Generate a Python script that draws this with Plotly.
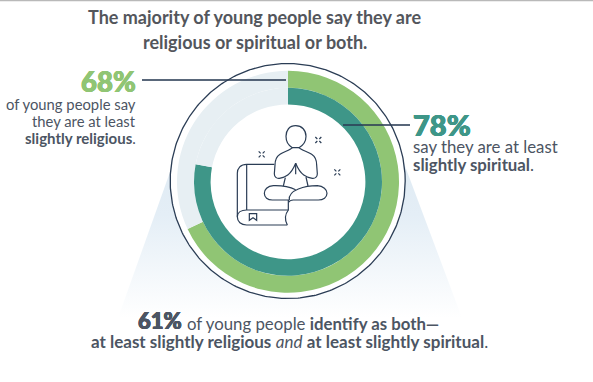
import numpy as np
import plotly.graph_objects as go

W, H = 593, 382
CX, CY = 288, 181.8

# Data
ring_labels = ["At least slightly religious", "At least slightly spiritual"]
religious_pct = 68
spiritual_pct = 78
both_pct = 61

GREEN = "#90c574"
TEAL = "#3e9688"
TRACK = "#e7eff3"
NAVY = "#2b3d55"
TEXT = "#4c5563"
TITLE = "#53565c"
FONT = "Lato"


def domain(r):
    return dict(x=[(CX - r) / W, (CX + r) / W], y=[1 - (CY + r) / H, 1 - (CY - r) / H])


fig = go.Figure()

# soft gradient trapezoid behind the rings
fig.add_trace(go.Scatter(
    x=[185, 391.5, 462, 118], y=[130, 130, 318, 318], mode="lines", fill="toself",
    line=dict(width=0), hoverinfo="skip", showlegend=False,
    fillgradient=dict(type="vertical", start=130, stop=318,
                      colorscale=[[0, "#dde9f2"], [0.45, "#e4eef6"], [1, "#ffffff"]]),
))
# outline disc
t = np.linspace(0, 2 * np.pi, 361)
fig.add_trace(go.Scatter(
    x=287.7 + 117.5 * np.cos(t), y=181 + 117.5 * np.sin(t), mode="lines", fill="toself",
    fillcolor="white", line=dict(color=NAVY, width=1.3), hoverinfo="skip", showlegend=False,
))

fig.add_trace(go.Pie(
    values=[religious_pct, 100 - religious_pct], labels=[ring_labels[0], "rest"], sort=False,
    direction="clockwise", rotation=0, hole=94 / 111, textinfo="none", hoverinfo="skip",
    marker=dict(colors=[GREEN, TRACK], line=dict(width=0)), domain=domain(111), showlegend=False,
))
fig.add_trace(go.Pie(
    values=[spiritual_pct, 100 - spiritual_pct], labels=[ring_labels[1], "rest"], sort=False,
    direction="clockwise", rotation=0, hole=77.4 / 94, textinfo="none", hoverinfo="skip",
    marker=dict(colors=[TEAL, TRACK], line=dict(width=0)), domain=domain(94), showlegend=False,
))


def shape_line(x0, y0, x1, y1, color, width=1.8, opacity=1):
    return dict(type="line", x0=x0, y0=y0, x1=x1, y1=y1, xref="x", yref="y", layer="above",
                opacity=opacity, line=dict(color=color, width=width))


def icon(path, width=1.2):
    """Path written in 3x crop coordinates of the icon; mapped to page pixels."""
    out, is_x = [], True
    for tok in path.split():
        if tok.isalpha():
            out.append(tok)
        else:
            v = float(tok) / 3 + (230 if is_x else 115)
            out.append(f"{v:.2f}")
            is_x = not is_x
    return dict(type="path", path=" ".join(out), xref="x", yref="y", layer="above",
                line=dict(color=NAVY, width=width), fillcolor="rgba(0,0,0,0)")


def sparkle(x, y):
    a, b = 3, 9
    return " ".join(
        f"M {x + sx * a} {y + sy * a} L {x + sx * b} {y + sy * b}"
        for sx in (-1, 1) for sy in (-1, 1)
    )


icon_paths = [
    # head
    "M 197 32 C 178 32 168 46 168 64 C 168 80 176 92 187 98 L 207 98 C 218 92 228 80 228 64 C 228 46 216 32 197 32 Z",
    # shoulders, arms and joined hands
    "M 187 98 C 180 106 160 110 150 118 C 138 126 135 138 135 150 L 133 176 C 133 186 140 191 148 190 C 165 187 182 182 197 145",
    "M 207 98 C 214 106 234 110 245 118 C 257 126 260 138 260 150 L 262 176 C 262 186 255 191 247 190 C 230 187 212 182 197 145",
    "M 197 145 L 197 178",
    # waist
    "M 166 188 L 160 213",
    "M 228 186 L 234 213",
    # crossed legs
    "M 197 224 C 180 216 160 211 130 212 C 112 213 103 224 103 235 C 103 247 113 255 127 255 L 178 255",
    "M 178 255 C 176 240 185 230 205 222 C 225 214 245 212 262 212 C 280 213 291 224 291 235 C 291 247 280 255 265 255 L 190 255 C 182 255 178 258 176 262",
    # book
    "M 133 148 L 50 148 C 32 148 22 160 22 175 L 22 305 C 22 320 33 330 50 330 L 172 330",
    "M 50 148 L 50 285",
    "M 22 305 C 22 292 34 285 50 285 L 175 285",
    "M 175 255 L 175 285 C 165 298 164 315 172 330",
    # bookmark
    "M 58 296 L 80 296 L 80 316 L 69 308 L 58 316 Z",
    # sparkles
    sparkle(265, 75),
    sparkle(95, 118),
    sparkle(322, 172),
]

shapes = [
    shape_line(0, 0.5, W, 0.5, "#b9b9b9", 1.5),
    shape_line(142, 80, 286, 80, NAVY, 1.8, 0.78),
    shape_line(343, 125, 410, 125, NAVY, 1.8, 0.78),
] + [icon(p) for p in icon_paths]

fig.update_layout(
    shapes=shapes,
    width=W, height=H, margin=dict(l=0, r=0, t=0, b=0), paper_bgcolor="white", plot_bgcolor="white",
    xaxis=dict(range=[0, W], visible=False, fixedrange=True),
    yaxis=dict(range=[H, 0], visible=False, fixedrange=True),
)


def note(x, y, text, size, color=TEXT, anchor="left", weight=None):
    f = dict(family=FONT, size=size, color=color)
    if weight:
        f["weight"] = weight
        f["shadow"] = f"0.5px 0 0 {color}, -0.5px 0 0 {color}, 0 0.4px 0 {color}, 0 -0.4px 0 {color}"
    fig.add_annotation(x=x, y=y, xref="x", yref="y", text=text, showarrow=False, font=f,
                       xanchor=anchor, yanchor="middle", align=anchor, borderpad=0, borderwidth=0)


note(254.5, 17, "<b>The majority of young people say they are</b>", 18, TITLE, "center")
note(254.5, 42, "<b>religious or spiritual or both.</b>", 18, TITLE, "center")
note(136, 81, f"{religious_pct}%", 27.5, GREEN, "right", 900)
note(136, 104, "of young people say", 14.8, anchor="right")
note(136, 121, "they are at least", 14.8, anchor="right")
note(136, 138, "<b>slightly religious</b>.", 15, anchor="right")
note(413, 124.5, f"{spiritual_pct}%", 29, TEAL, "left", 900)
note(413, 146, "say they are at least", 16.8)
note(413, 164, "<b>slightly spiritual</b>.", 16.8)
note(138, 320.5, f"{both_pct}%", 22, TEXT, "left", 900)
note(187, 323, "of young people <b>identify as both—</b>", 16.8)
note(289, 341.5, "<b>at least slightly religious</b> <i>and</i> <b>at least slightly spiritual</b>.", 17, anchor="center")

fig.write_html("out.html", config={"displayModeBar": False},
               post_script="document.body.style.margin='0';document.body.style.overflow='hidden';")
